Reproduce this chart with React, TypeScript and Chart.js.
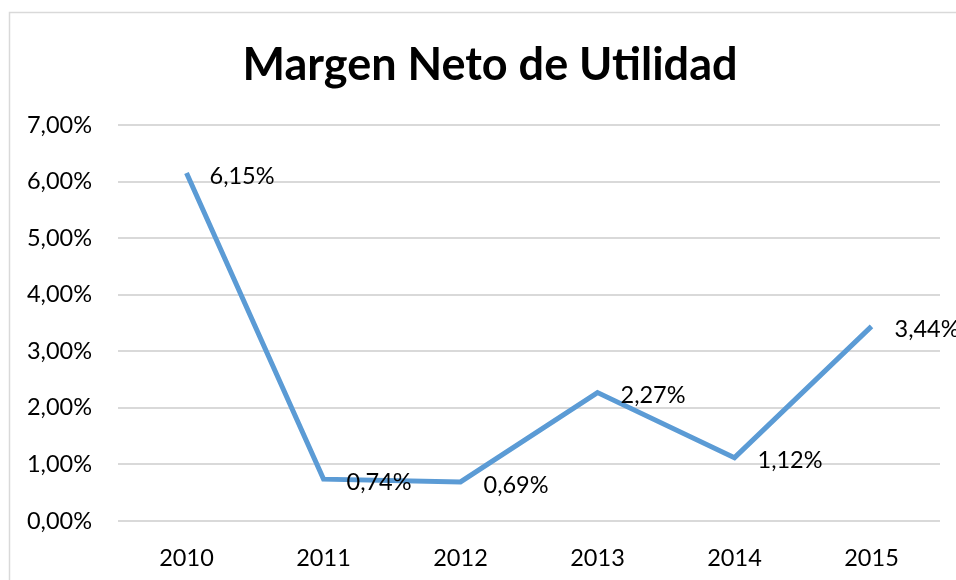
import React, { useEffect, useRef } from "react";
import { Chart, registerables } from "chart.js";

Chart.register(...registerables);

const title = "Margen Neto de Utilidad";
const years = ["2010", "2011", "2012", "2013", "2014", "2015"];
const margin = [6.15, 0.74, 0.69, 2.27, 1.12, 3.44];
const marginLabels = ["6,15%", "0,74%", "0,69%", "2,27%", "1,12%", "3,44%"];

const FONT = "Lato, 'Open Sans', sans-serif";
const TEXT_SIZE = 23.5;

const fmt = (v: number) => v.toFixed(2).replace(".", ",") + "%";

const framePlugin = {
  id: "frameAndTitle",
  beforeDraw(chart: any) {
    const ctx = chart.ctx;
    ctx.save();
    ctx.fillStyle = "#ffffff";
    ctx.fillRect(0, 0, chart.width, chart.height);
    ctx.strokeStyle = "#D9D9D9";
    ctx.lineWidth = 1.5;
    ctx.strokeRect(9.5, 12.5, chart.width + 20, chart.height + 20);
    ctx.fillStyle = "#000000";
    ctx.font = `bold 45px ${FONT}`;
    ctx.textAlign = "center";
    ctx.textBaseline = "middle";
    ctx.fillText(title, 490, 65);
    ctx.restore();
  },
};

const labelPlugin = {
  id: "pointLabels",
  afterDatasetsDraw(chart: any) {
    const ctx = chart.ctx;
    const meta = chart.getDatasetMeta(0);
    ctx.save();
    ctx.font = `${TEXT_SIZE}px ${FONT}`;
    ctx.fillStyle = "#000000";
    ctx.textAlign = "left";
    ctx.textBaseline = "middle";
    meta.data.forEach((pt: any, i: number) => {
      ctx.fillText(marginLabels[i], pt.x + 23, pt.y + 3);
    });
    ctx.restore();
  },
};

export default function App() {
  const ref = useRef<HTMLCanvasElement | null>(null);
  useEffect(() => {
    if (!ref.current) return;
    const chart = new Chart(ref.current, {
      type: "line",
      data: {
        labels: years,
        datasets: [
          {
            data: margin,
            borderColor: "#5B9BD5",
            backgroundColor: "#5B9BD5",
            borderWidth: 5,
            pointRadius: 0,
            pointHoverRadius: 0,
            tension: 0,
            fill: false,
          },
        ],
      },
      options: {
        animation: false,
        responsive: false,
        maintainAspectRatio: false,
        events: [],
        layout: { padding: { left: 10, right: 16, top: 125, bottom: 9 } },
        plugins: {
          legend: { display: false },
          tooltip: { enabled: false },
          title: { display: false },
        },
        scales: {
          x: {
            offset: true,
            grid: { display: false },
            border: { display: false },
            ticks: {
              color: "#000000",
              font: { family: FONT, size: TEXT_SIZE },
              padding: 15,
              maxRotation: 0,
            },
            afterFit(s: any) {
              s.height = 50;
            },
          },
          y: {
            min: 0,
            max: 7,
            grid: { color: "#D9D9D9", lineWidth: 2, drawTicks: false },
            border: { display: false },
            ticks: {
              stepSize: 1,
              color: "#000000",
              font: { family: FONT, size: TEXT_SIZE },
              padding: 26,
              callback: (v: any) => fmt(Number(v)),
            },
            afterFit(s: any) {
              s.width = 108;
            },
          },
        },
      },
      plugins: [framePlugin, labelPlugin],
    });
    return () => chart.destroy();
  }, []);
  return (
    <div style={{ position: "fixed", left: 0, top: 0, width: 956, height: 580 }}>
      <canvas ref={ref} width={956} height={580} style={{ display: "block" }} />
    </div>
  );
}
